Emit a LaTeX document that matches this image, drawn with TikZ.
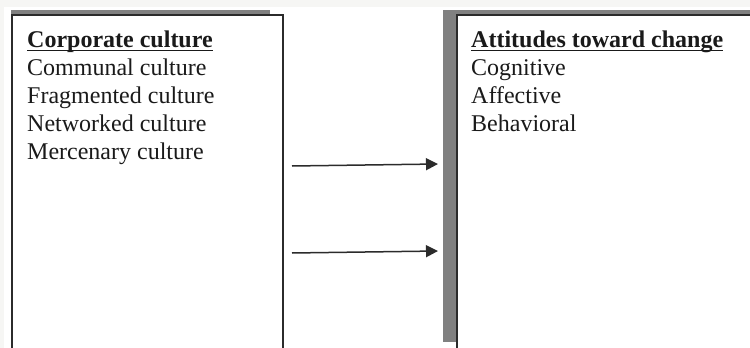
\documentclass[tikz,border=0pt]{standalone}
\usepackage{fontspec}
\setmainfont{Liberation Serif}
\usetikzlibrary{arrows.meta}
\definecolor{bg}{HTML}{F6F6F4}
\definecolor{shadowgray}{HTML}{808080}
\definecolor{edge}{HTML}{2B2B2B}
\definecolor{ink}{HTML}{1A1A1A}
\begin{document}
\begin{tikzpicture}[x=1pt,y=-1pt,
  txt/.style={anchor=base west, inner sep=0pt, text=ink, font=\fontsize{24}{28}\selectfont},
  head/.style={anchor=base west, inner sep=0pt, text=ink, font=\fontsize{24}{28}\selectfont\bfseries},
  uline/.style={draw=ink, line width=1.6pt},
  boxline/.style={draw=edge, line width=1.6pt},
  conn/.style={draw=edge, line width=1.5pt, -{Triangle[length=12pt,width=12pt]}}]
\useasboundingbox (0,0) rectangle (750,348);
\clip (0,0) rectangle (750,348);
\fill[bg] (0,0) rectangle (750,348);
\fill[white] (4,7) rectangle (750,348);
% left box
\fill[shadowgray] (11,10) rectangle (270,15);
\draw[boxline] (12,360) -- (12,15) -- (283,15) -- (283,360);
% right box
\fill[shadowgray] (443,10) rectangle (760,15);
\fill[shadowgray] (443,10) rectangle (457,342);
\draw[boxline] (457,360) -- (457,15) -- (760,15);
% left texts
\node[head] (lh) at (27,47) {Corporate culture};
\draw[uline] ([yshift=-3.5pt]lh.base west) -- ([yshift=-3.5pt]lh.base east);
\node[txt] (l1) at (27,75) {Communal culture};
\node[txt] (l2) at (27,103) {Fragmented culture};
\node[txt] (l3) at (27,131) {Networked culture};
\node[txt] (l4) at (27,159) {Mercenary culture};
% right texts
\node[head] (rh) at (471,47) {Attitudes toward change};
\draw[uline] ([yshift=-3.5pt]rh.base west) -- ([yshift=-3.5pt]rh.base east);
\node[txt] (r1) at (471,75) {Cognitive};
\node[txt] (r2) at (471,103) {Affective};
\node[txt] (r3) at (471,131) {Behavioral};
% arrows
\coordinate (a1s) at (292,166);
\coordinate (a1e) at (438,164);
\coordinate (a2s) at (292,253);
\coordinate (a2e) at (438,251);
\draw[conn] (a1s) -- (a1e);
\draw[conn] (a2s) -- (a2e);
\end{tikzpicture}
\end{document}
